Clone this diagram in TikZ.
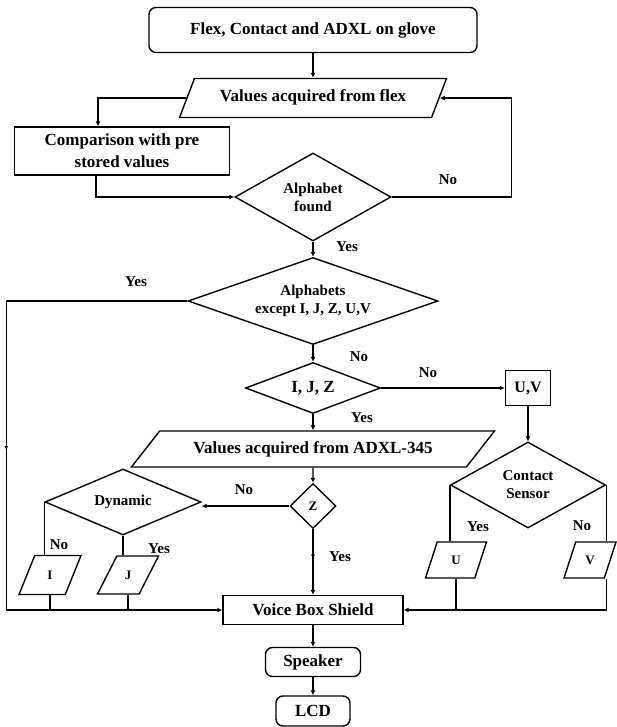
\documentclass[tikz,border=0pt]{standalone}
\usepackage{fontspec}
\setmainfont{Liberation Serif}
\usetikzlibrary{shapes.geometric,arrows.meta,decorations.markings}

\tikzset{
  base/.style={draw, line width=1.4pt, inner sep=0pt, align=center,
    font=\bfseries\fontsize{17}{22}\selectfont},
  startbox/.style={base, rectangle, rounded corners=7pt},
  procbox/.style={base, rectangle},
  par/.style={base, trapezium, trapezium left angle=#1,
    trapezium right angle=180-#1, trapezium stretches body},
  decision/.style={base, diamond, font=\bfseries\fontsize{15}{18}\selectfont},
  lbl/.style={font=\bfseries\fontsize{15}{17}\selectfont, inner sep=0pt},
  line/.style={line width=1.4pt},
  arr/.style={line, -{Latex[length=5pt,width=5pt]}},
  midarr/.style={postaction={decorate}, decoration={markings,
    mark=at position #1 with {\arrow{Latex[length=4pt,width=4pt]}}}},
  small/.style={font=\bfseries\fontsize{13}{15}\selectfont},
}

\begin{document}
\begin{tikzpicture}[x=1pt,y=-1pt]
\useasboundingbox (0,0) rectangle (617,727);

\node[startbox, minimum width=328, minimum height=45] (glove) at (313,30) {Flex, Contact and ADXL on glove};
\node[par=69, minimum width=267, text height=23.5pt, text depth=15.5pt] (flex) at (313,98) {Values acquired from flex};
\node[procbox, minimum width=215, minimum height=48] (cmp) at (122,151) {Comparison with pre\\stored values};
\node[decision, minimum width=156, minimum height=88, aspect=1.77] (found) at (313,197) {Alphabet\\found};
\node[decision, minimum width=250, minimum height=87, aspect=2.9] (alph) at (313,301) {Alphabets\\except I, J, Z, U,V};
\node[decision, minimum width=135, minimum height=51, aspect=2.6, font=\bfseries\fontsize{17}{19}\selectfont] (ijz) at (313,388) {I, J, Z};
\node[procbox, minimum width=45, minimum height=35, font=\bfseries\fontsize{16}{18}\selectfont] (uv) at (528,388) {U,V};
\node[par=52, minimum width=363, text height=22pt, text depth=14pt] (adxl) at (313,449) {Values acquired from ADXL-345};
\node[decision, small, minimum width=46, minimum height=45, aspect=1] (z) at (313,506) {Z};
\node[decision, minimum width=156, minimum height=66, aspect=2.4] (dyn) at (123,502) {Dynamic};
\node[decision, minimum width=155, minimum height=86, aspect=1.8] (contact) at (528,485) {Contact\\Sensor};
\node[par=68, small, minimum width=62, text height=23.5pt, text depth=15.5pt] (i) at (50,575) {I};
\node[par=63, small, minimum width=61, text height=23pt, text depth=15pt] (j) at (128,575) {J};
\node[par=72, small, minimum width=61, text height=22pt, text depth=14pt] (u) at (456,560) {U};
\node[par=72, small, minimum width=52, text height=22pt, text depth=14pt] (v) at (590,560) {V};
\node[procbox, minimum width=180, minimum height=29] (voice) at (313,610) {Voice Box Shield};
\node[startbox, minimum width=95, minimum height=29] (spk) at (313,662) {Speaker};
\node[startbox, minimum width=74, minimum height=30] (lcd) at (313,711) {LCD};

% connectors
\draw[arr] (glove) -- (flex);
\draw[arr] (flex.west) -| ([xshift=-24]cmp.north);
\draw[arr] ([xshift=-26]cmp.south) |- (found.west);
\draw[arr] (found.east) -- ++(120,0) |- (flex.east);
\draw[arr] (found) -- (alph);
\draw[arr, midarr=330pt] (alph.west) -- ++(-181,0) |- (voice.west);
\draw[arr] (alph) -- (ijz);
\draw[arr] (ijz) -- (uv);
\draw[arr] (ijz) -- (adxl);
\draw[arr] (adxl) -- (z);
\draw[arr] (z.west) -- (z.west -| dyn.east);
\draw[line] (dyn.west) -- (dyn.west |- i.north);
\draw[line] (dyn.south) -- (dyn.south |- j.north);
\draw[line] (i.south) -- (i.south |- voice.west);
\draw[line] (j.south) -- (j.south |- voice.west);
\draw[arr, midarr=0.45] (z) -- (voice);
\draw[arr] (uv) -- (contact);
\draw[line] (contact.west) -- (contact.west |- u.north);
\draw[line] (contact.east) -- (contact.east |- v.north);
\draw[line] (u.south) -- (u.south |- voice.east);
\draw[arr] (contact.east |- v.south) |- (voice.east);
\draw[arr] (voice) -- (spk);
\draw[arr] (spk) -- (lcd);

% labels
\node[lbl] (nofound) at (448,180) {No};
\node[lbl] (yesfound) at (347,247) {Yes};
\node[lbl] (yesalph) at (136,282) {Yes};
\node[lbl] (noalph) at (359,357) {No};
\node[lbl] (noijz) at (428,373) {No};
\node[lbl] (yesijz) at (362,418) {Yes};
\node[lbl] (noz) at (244,490) {No};
\node[lbl] (nodyn) at (59,545) {No};
\node[lbl] (yesdyn) at (159,549) {Yes};
\node[lbl] (yesz) at (340,557) {Yes};
\node[lbl] (yescontact) at (478,527) {Yes};
\node[lbl] (nocontact) at (582,526) {No};
\end{tikzpicture}
\end{document}
